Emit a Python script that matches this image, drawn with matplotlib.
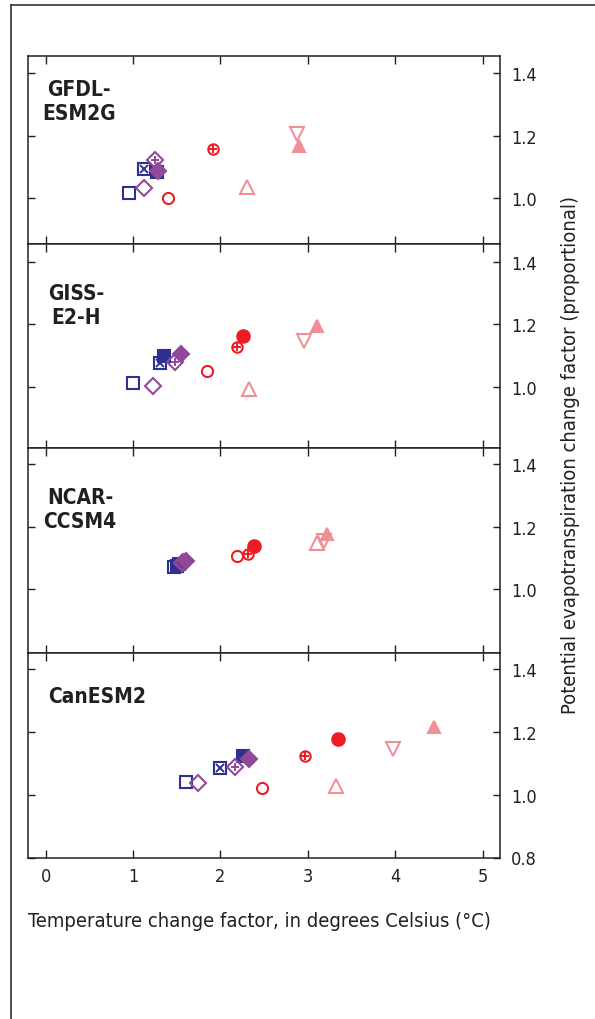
import numpy as np
import matplotlib
matplotlib.use('Agg')
import matplotlib.pyplot as plt
from matplotlib.lines import Line2D

plt.rcParams['font.family'] = ['Liberation Sans Narrow', 'DejaVu Sans']
plt.rcParams['font.stretch'] = 'condensed'

# model names as drawn inside each panel
models = ['GFDL-\nESM2G', 'GISS-\nE2-H', 'NCAR-\nCCSM4', 'CanESM2']

# symbol order: open/crossed/filled square, open/crossed/filled diamond,
# open/crossed/filled circle, open up-triangle, open down-triangle, filled up-triangle
nan = np.nan
temp_gfdl = [0.95, 1.13, 1.27, 1.13, 1.255, 1.29, 1.395, 1.92, nan, 2.30, 2.877, 2.90]
pet_gfdl = [1.015, 1.095, 1.084, 1.034, 1.123, 1.088, 1.000, 1.159, nan, 1.037, 1.205, 1.168]

temp_giss = [0.996, 1.31, 1.35, 1.225, 1.48, 1.55, 1.85, 2.19, 2.26, 2.33, 2.955, 3.106]
pet_giss = [1.012, 1.076, 1.098, 1.004, 1.081, 1.106, 1.050, 1.129, 1.164, 0.994, 1.146, 1.196]

temp_ncar = [1.47, 1.50, 1.53, 1.56, 1.57, 1.60, 2.19, 2.32, 2.384, 3.105, 3.18, 3.22]
pet_ncar = [1.073, 1.074, 1.080, 1.085, 1.088, 1.092, 1.107, 1.112, 1.137, 1.149, 1.155, 1.176]

temp_can = [1.61, 2.00, 2.26, 1.74, 2.17, 2.33, 2.47, 2.97, 3.35, 3.32, 3.98, 4.44]
pet_can = [1.040, 1.085, 1.125, 1.038, 1.088, 1.114, 1.022, 1.123, 1.178, 1.028, 1.146, 1.215]

temps = [temp_gfdl, temp_giss, temp_ncar, temp_can]
pets = [pet_gfdl, pet_giss, pet_ncar, pet_can]

blue = '#2e3192'
purple = '#93479b'
red = '#ed1c24'
pink = '#f28e98'

# (marker, color, filled, inner mark, size)
styles = [
    ('s', blue, False, None, 8),
    ('s', blue, False, 'x', 8),
    ('s', blue, True, None, 8),
    ('D', purple, False, None, 8),
    ('D', purple, False, '+', 8),
    ('D', purple, True, None, 8),
    ('o', red, False, None, 8),
    ('o', red, False, '+', 7.5),
    ('o', red, True, None, 9),
    ('^', pink, False, None, 9.5),
    ('v', pink, False, None, 9.5),
    ('^', pink, True, None, 9),
]

W, H = 595, 1020
fig = plt.figure(figsize=(W / 100, H / 100), dpi=100)

# panel extents in pixels (top, bottom) and y limits
tops = [57.3, 245, 448.5, 654]
bots = [245, 448.5, 654, 858.5]
ylims = [(0.853, 1.455), (0.806, 1.457), (0.797, 1.453), (0.800, 1.452)]
left_px, right_px = 28.3, 500

title_pos = [(79, 102.5), (76, 305.5), (80, 510), (97, 697)]

for i in range(4):
    ax = fig.add_axes([left_px / W, 1 - bots[i] / H,
                       (right_px - left_px) / W, (bots[i] - tops[i]) / H])
    for j, (m, c, filled, inner, ms) in enumerate(styles):
        x, y = temps[i][j], pets[i][j]
        if np.isnan(x):
            continue
        ax.plot(x, y, marker=m, ms=ms, mec=c, mew=1.5,
                mfc=c if filled else 'none', ls='none', zorder=3)
        if inner is not None:
            ax.plot(x, y, marker=inner, ms=ms * 0.8, mec=c, mew=1.4,
                    ls='none', zorder=3)
    ax.set_xlim(-0.2, 5.2)
    ax.set_ylim(*ylims[i])
    ax.set_xticks(range(6))
    if i == 3:
        ax.set_yticks([0.8, 1.0, 1.2, 1.4])
    else:
        ax.set_yticks([1.0, 1.2, 1.4])
    ax.yaxis.set_major_formatter(plt.FuncFormatter(lambda v, p: '%.1f' % v))
    ax.tick_params(axis='x', direction='in', top=True, bottom=True, length=6,
                   width=1, labelbottom=(i == 3), labelsize=13, pad=7,
                   colors='#231f20')
    ax.tick_params(axis='y', direction='in', left=True, right=True, length=5,
                   width=1, labelleft=False, labelright=True, labelsize=13,
                   pad=8, colors='#231f20')
    for s in ax.spines.values():
        s.set_linewidth(1.1)
        s.set_color('#231f20')
    tx, ty = title_pos[i]
    fig.text(tx / W, 1 - ty / H, models[i], ha='center', va='center',
             multialignment='center', fontsize=15, fontweight='bold',
             linespacing=1.25, color='#231f20')

fig.text(left_px / W, 1 - 921.5 / H,
         'Temperature change factor, in degrees Celsius (\u00b0C)',
         ha='left', va='center', fontsize=14.5, color='#231f20')
fig.text(570 / W, 1 - 455 / H,
         'Potential evapotranspiration change factor (proportional)',
         ha='center', va='center', rotation=90, fontsize=14.5, color='#231f20')

# page frame
fig.add_artist(Line2D([10.5 / W, 10.5 / W], [0, 1 - 5.5 / H],
                      transform=fig.transFigure, color='#333333', lw=1.2))
fig.add_artist(Line2D([10.5 / W, 1], [1 - 5.5 / H, 1 - 5.5 / H],
                      transform=fig.transFigure, color='#333333', lw=1.2))

fig.savefig('out.png', dpi=100)
